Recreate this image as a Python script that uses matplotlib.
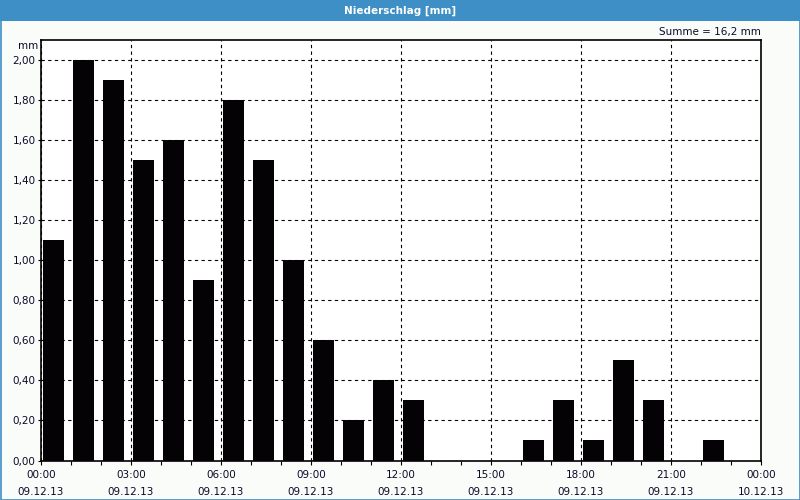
import matplotlib
matplotlib.use("Agg")
import matplotlib.pyplot as plt
from matplotlib.patches import Rectangle

# stundenwerte niederschlag 09.12.13
stunden = list(range(24))
werte = [1.1, 2.0, 1.9, 1.5, 1.6, 0.9, 1.8, 1.5, 1.0, 0.6, 0.2, 0.4, 0.3,
         0.0, 0.0, 0.0, 0.1, 0.3, 0.1, 0.5, 0.3, 0.0, 0.1, 0.0]
x_ticks = [0, 3, 6, 9, 12, 15, 18, 21, 24]
x_labels = ["00:00\n09.12.13", "03:00\n09.12.13", "06:00\n09.12.13",
            "09:00\n09.12.13", "12:00\n09.12.13", "15:00\n09.12.13",
            "18:00\n09.12.13", "21:00\n09.12.13", "00:00\n10.12.13"]
y_ticks = [0.0, 0.2, 0.4, 0.6, 0.8, 1.0, 1.2, 1.4, 1.6, 1.8, 2.0]
y_labels = ["0,00", "0,20", "0,40", "0,60", "0,80", "1,00",
            "1,20", "1,40", "1,60", "1,80", "2,00"]

blau = "#3d8fc6"
textfarbe = "#0a0a28"
W, H = 800, 500

fig = plt.figure(figsize=(8, 5), dpi=100, facecolor="#fafcfa")

# titelleiste + rahmen
fig.patches.append(Rectangle((0, 1 - 21 / H), 1, 21 / H, transform=fig.transFigure,
                             facecolor=blau, edgecolor="none", zorder=0))
fig.patches.append(Rectangle((0.5 / W, 0.5 / H), 1 - 1 / W, 1 - 1 / H, transform=fig.transFigure,
                             facecolor="none", edgecolor=blau, linewidth=1.2, zorder=5))
fig.text(0.5, 1 - 11 / H, "Niederschlag [mm]", color="white", fontsize=7.5,
         fontweight="bold", ha="center", va="center")

ax = fig.add_axes([41 / W, (H - 460.5) / H, 720 / W, 420.5 / H])
ax.set_facecolor("white")

ax.bar([s + 0.08 for s in stunden], werte, width=0.7, align="edge",
       color="#050205", edgecolor="none", zorder=3)

ax.set_xlim(0, 24)
ax.set_ylim(0, 2.1)
ax.set_xticks(x_ticks)
ax.set_xticklabels(x_labels, fontsize=7.5, linespacing=1.9, color=textfarbe)
ax.set_xticks(stunden, minor=True)
ax.set_yticks(y_ticks)
ax.set_yticklabels(y_labels, fontsize=7.5, color=textfarbe)
ax.tick_params(axis="y", which="major", length=2, width=0.8, direction="out", pad=2)
ax.tick_params(axis="x", which="major", length=3, width=0.8, direction="out", pad=4)
ax.tick_params(axis="x", which="minor", length=3, width=0.8, direction="out")

ax.grid(True, which="major", color="black", linestyle=(0, (3, 3)), linewidth=0.8, zorder=1)
for sp in ax.spines.values():
    sp.set_linewidth(1.2)

fig.text(38 / W, 1 - 46 / H, "mm", fontsize=7.5, ha="right", va="center", color=textfarbe)
fig.text(761 / W, 1 - 32 / H, "Summe = 16,2 mm", fontsize=7.5, ha="right", va="center",
         color=textfarbe)

fig.savefig("out.png", dpi=100, facecolor=fig.get_facecolor())
